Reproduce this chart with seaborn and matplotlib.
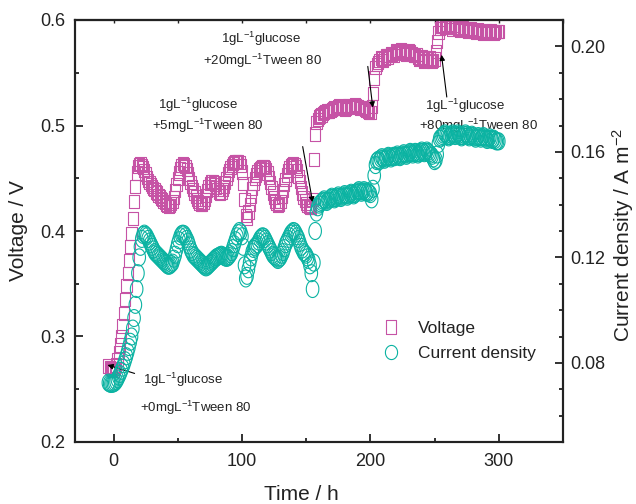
import numpy as np
import matplotlib
matplotlib.use("Agg")
import matplotlib.pyplot as plt
import seaborn as sns
from matplotlib.lines import Line2D
from matplotlib.ticker import MultipleLocator, FormatStrFormatter

# time (h), voltage (V) and current density (A m-2)
time_h = [
    -4, -3, -2, -1, 0, 1, 2, 3, 4, 5,
    6, 7, 8, 9, 10, 11, 12, 13, 14, 15,
    16, 17, 18, 19, 20, 21, 22, 23, 24, 25,
    26, 27, 28, 29, 30, 31, 32, 33, 34, 35,
    36, 37, 38, 39, 40, 41, 42, 43, 44, 45,
    46, 47, 48, 49, 50, 51, 52, 53, 54, 55,
    56, 57, 58, 59, 60, 61, 62, 63, 64, 65,
    66, 67, 68, 69, 70, 71, 72, 73, 74, 75,
    76, 77, 78, 79, 80, 81, 82, 83, 84, 85,
    86, 87, 88, 89, 90, 91, 92, 93, 94, 95,
    96, 97, 98, 99, 100, 101, 102, 103, 104, 105,
    106, 107, 108, 109, 110, 111, 112, 113, 114, 115,
    116, 117, 118, 119, 120, 121, 122, 123, 124, 125,
    126, 127, 128, 129, 130, 131, 132, 133, 134, 135,
    136, 137, 138, 139, 140, 141, 142, 143, 144, 145,
    146, 147, 148, 149, 150, 151, 152, 153, 154, 155,
    156, 157, 158, 159, 160, 161, 162, 163, 164, 165,
    166, 167, 168, 169, 170, 171, 172, 173, 174, 175,
    176, 177, 178, 179, 180, 181, 182, 183, 184, 185,
    186, 187, 188, 189, 190, 191, 192, 193, 194, 195,
    196, 197, 198, 199, 200, 201, 202, 203, 204, 205,
    206, 207, 208, 209, 210, 211, 212, 213, 214, 215,
    216, 217, 218, 219, 220, 221, 222, 223, 224, 225,
    226, 227, 228, 229, 230, 231, 232, 233, 234, 235,
    236, 237, 238, 239, 240, 241, 242, 243, 244, 245,
    246, 247, 248, 249, 250, 251, 252, 253, 254, 255,
    256, 257, 258, 259, 260, 261, 262, 263, 264, 265,
    266, 267, 268, 269, 270, 271, 272, 273, 274, 275,
    276, 277, 278, 279, 280, 281, 282, 283, 284, 285,
    286, 287, 288, 289, 290, 291, 292, 293, 294, 295,
    296, 297, 298, 299, 300,
]

voltage_v = [
    0.272, 0.271, 0.270, 0.269, 0.268, 0.270, 0.273, 0.278, 0.285, 0.292,
    0.300, 0.310, 0.322, 0.335, 0.348, 0.360, 0.372, 0.385, 0.398, 0.412,
    0.428, 0.442, 0.455, 0.461, 0.463, 0.464, 0.462, 0.460, 0.457, 0.454,
    0.451, 0.448, 0.446, 0.444, 0.442, 0.440, 0.439, 0.437, 0.436, 0.434,
    0.433, 0.431, 0.430, 0.428, 0.427, 0.425, 0.424, 0.423, 0.424, 0.426,
    0.428, 0.432, 0.438, 0.444, 0.450, 0.455, 0.459, 0.462, 0.464, 0.463,
    0.461, 0.458, 0.454, 0.450, 0.446, 0.442, 0.439, 0.436, 0.433, 0.430,
    0.428, 0.426, 0.425, 0.425, 0.427, 0.430, 0.434, 0.438, 0.442, 0.445,
    0.447, 0.447, 0.446, 0.444, 0.441, 0.439, 0.437, 0.436, 0.437, 0.439,
    0.442, 0.446, 0.450, 0.454, 0.457, 0.460, 0.462, 0.464, 0.465, 0.466,
    0.466, 0.466, 0.465, 0.462, 0.456, 0.445, 0.430, 0.415, 0.412, 0.418,
    0.425, 0.433, 0.440, 0.445, 0.450, 0.453, 0.456, 0.458, 0.459, 0.460,
    0.461, 0.461, 0.460, 0.458, 0.455, 0.451, 0.446, 0.441, 0.436, 0.432,
    0.428, 0.426, 0.424, 0.425, 0.428, 0.433, 0.438, 0.444, 0.449, 0.453,
    0.457, 0.460, 0.462, 0.463, 0.464, 0.463, 0.461, 0.457, 0.452, 0.447,
    0.441, 0.436, 0.432, 0.429, 0.426, 0.424, 0.423, 0.422, 0.422, 0.430,
    0.468, 0.492, 0.503, 0.506, 0.508, 0.509, 0.510, 0.511, 0.512, 0.513,
    0.514, 0.513, 0.513, 0.514, 0.515, 0.516, 0.517, 0.516, 0.516, 0.518,
    0.519, 0.518, 0.517, 0.516, 0.515, 0.516, 0.518, 0.519, 0.519, 0.518,
    0.517, 0.518, 0.520, 0.519, 0.518, 0.517, 0.516, 0.517, 0.517, 0.516,
    0.515, 0.514, 0.513, 0.512, 0.512, 0.518, 0.530, 0.545, 0.555, 0.558,
    0.560, 0.562, 0.564, 0.563, 0.562, 0.564, 0.566, 0.566, 0.565, 0.566,
    0.568, 0.567, 0.566, 0.568, 0.571, 0.570, 0.569, 0.570, 0.572, 0.571,
    0.570, 0.568, 0.567, 0.569, 0.571, 0.570, 0.568, 0.567, 0.566, 0.566,
    0.567, 0.565, 0.563, 0.564, 0.565, 0.563, 0.561, 0.562, 0.563, 0.564,
    0.564, 0.562, 0.561, 0.562, 0.563, 0.570, 0.580, 0.588, 0.592, 0.594,
    0.595, 0.594, 0.593, 0.594, 0.596, 0.595, 0.594, 0.593, 0.591, 0.593,
    0.595, 0.593, 0.592, 0.591, 0.590, 0.592, 0.593, 0.592, 0.591, 0.590,
    0.589, 0.590, 0.592, 0.591, 0.590, 0.589, 0.588, 0.590, 0.591, 0.590,
    0.589, 0.588, 0.587, 0.589, 0.590, 0.589, 0.588, 0.589, 0.590, 0.588,
    0.587, 0.588, 0.589, 0.589, 0.589,
]

current_a_m2 = [
    0.0725, 0.0722, 0.0720, 0.0721, 0.0722, 0.0725, 0.0730, 0.0738, 0.0748, 0.0758,
    0.0770, 0.0782, 0.0795, 0.0810, 0.0825, 0.0842, 0.0860, 0.0880, 0.0900, 0.0930,
    0.0970, 0.1020, 0.1080, 0.1140, 0.1200, 0.1240, 0.1270, 0.1285, 0.1290, 0.1285,
    0.1280, 0.1270, 0.1260, 0.1250, 0.1240, 0.1230, 0.1220, 0.1215, 0.1210, 0.1205,
    0.1200, 0.1195, 0.1190, 0.1185, 0.1180, 0.1175, 0.1170, 0.1168, 0.1170, 0.1175,
    0.1180, 0.1195, 0.1210, 0.1230, 0.1250, 0.1265, 0.1280, 0.1288, 0.1290, 0.1288,
    0.1280, 0.1270, 0.1260, 0.1245, 0.1230, 0.1220, 0.1210, 0.1205, 0.1200, 0.1195,
    0.1190, 0.1185, 0.1180, 0.1175, 0.1170, 0.1165, 0.1162, 0.1165, 0.1170, 0.1175,
    0.1180, 0.1185, 0.1190, 0.1195, 0.1200, 0.1202, 0.1205, 0.1208, 0.1210, 0.1207,
    0.1203, 0.1200, 0.1198, 0.1200, 0.1205, 0.1212, 0.1220, 0.1235, 0.1250, 0.1265,
    0.1280, 0.1292, 0.1300, 0.1295, 0.1280, 0.1240, 0.1170, 0.1120, 0.1130, 0.1155,
    0.1180, 0.1200, 0.1220, 0.1232, 0.1240, 0.1245, 0.1250, 0.1260, 0.1270, 0.1276,
    0.1280, 0.1278, 0.1270, 0.1260, 0.1250, 0.1240, 0.1230, 0.1220, 0.1210, 0.1205,
    0.1200, 0.1195, 0.1190, 0.1195, 0.1200, 0.1210, 0.1220, 0.1235, 0.1250, 0.1260,
    0.1270, 0.1280, 0.1290, 0.1295, 0.1300, 0.1298, 0.1290, 0.1280, 0.1270, 0.1255,
    0.1240, 0.1230, 0.1220, 0.1215, 0.1210, 0.1200, 0.1190, 0.1170, 0.1140, 0.1080,
    0.1180, 0.1300, 0.1370, 0.1390, 0.1400, 0.1405, 0.1410, 0.1415, 0.1420, 0.1415,
    0.1410, 0.1415, 0.1420, 0.1425, 0.1430, 0.1425, 0.1420, 0.1425, 0.1430, 0.1435,
    0.1430, 0.1425, 0.1430, 0.1435, 0.1440, 0.1435, 0.1430, 0.1435, 0.1440, 0.1445,
    0.1440, 0.1435, 0.1440, 0.1445, 0.1450, 0.1455, 0.1450, 0.1445, 0.1450, 0.1455,
    0.1450, 0.1445, 0.1450, 0.1445, 0.1440, 0.1420, 0.1460, 0.1510, 0.1550, 0.1565,
    0.1570, 0.1565, 0.1575, 0.1580, 0.1575, 0.1570, 0.1575, 0.1580, 0.1585, 0.1580,
    0.1575, 0.1580, 0.1585, 0.1580, 0.1585, 0.1590, 0.1585, 0.1580, 0.1585, 0.1590,
    0.1595, 0.1590, 0.1585, 0.1590, 0.1595, 0.1600, 0.1595, 0.1590, 0.1595, 0.1600,
    0.1595, 0.1590, 0.1595, 0.1600, 0.1605, 0.1600, 0.1595, 0.1600, 0.1605, 0.1600,
    0.1595, 0.1590, 0.1585, 0.1575, 0.1565, 0.1570, 0.1590, 0.1630, 0.1650, 0.1655,
    0.1660, 0.1665, 0.1670, 0.1665, 0.1660, 0.1655, 0.1660, 0.1665, 0.1670, 0.1665,
    0.1660, 0.1665, 0.1670, 0.1665, 0.1660, 0.1655, 0.1660, 0.1665, 0.1670, 0.1665,
    0.1660, 0.1655, 0.1660, 0.1665, 0.1660, 0.1655, 0.1650, 0.1655, 0.1660, 0.1655,
    0.1650, 0.1655, 0.1660, 0.1655, 0.1650, 0.1645, 0.1650, 0.1655, 0.1650, 0.1645,
    0.1650, 0.1645, 0.1640, 0.1640, 0.1640,
]

# annotation texts: (line 1, line 2, line-1 xy, line-2 xy, arrow tail, arrow head)
NOTES = [
    ("1gL$^{-1}$glucose", "+0mgL$^{-1}$Tween 80",
     (22.6, 0.259), (21.0, 0.232), (16.4, 0.265), (-4.7, 0.273)),
    ("1gL$^{-1}$glucose", "+5mgL$^{-1}$Tween 80",
     (34.3, 0.520), (29.6, 0.500), (147.3, 0.480), (155.1, 0.427)),
    ("1gL$^{-1}$glucose", "+20mgL$^{-1}$Tween 80",
     (83.4, 0.582), (69.4, 0.561), (198.0, 0.556), (201.9, 0.517)),
    ("1gL$^{-1}$glucose", "+80mgL$^{-1}$Tween 80",
     (242.4, 0.5185), (237.7, 0.500), (259.5, 0.527), (255.4, 0.567)),
]

VOLT_COLOR = "#C653A5"
CURR_COLOR = "#0BB3A2"
INK = "#222222"

sns.set_theme(style="ticks")
plt.rcParams["font.family"] = ["Liberation Sans", "DejaVu Sans"]
plt.rcParams["mathtext.default"] = "regular"


def box_marker(ratio):
    w = ratio / 2
    return [(-w, -0.5), (w, -0.5), (w, 0.5), (-w, 0.5), (-w, -0.5)]


def oval_marker(ratio):
    a = np.linspace(0, 2 * np.pi, 41)
    return list(zip(ratio / 2 * np.cos(a), 0.5 * np.sin(a)))


fig = plt.figure(figsize=(6.36, 5.04), dpi=100)
ax = fig.add_axes([75 / 636, 62 / 504, 488 / 636, 422 / 504])
ax2 = ax.twinx()

sns.scatterplot(x=time_h, y=voltage_v, ax=ax, marker=box_marker(0.78), s=90,
                color=VOLT_COLOR, facecolor="none", edgecolor=VOLT_COLOR,
                linewidth=0.8, legend=False)
sns.scatterplot(x=time_h, y=current_a_m2, ax=ax2, marker=oval_marker(0.74), s=150,
                color=CURR_COLOR, facecolor="none", edgecolor=CURR_COLOR,
                linewidth=0.8, legend=False)

ax.set_xlim(-30, 350)
ax.set_ylim(0.2, 0.6)
ax2.set_ylim(0.05, 0.21)

ax.xaxis.set_major_locator(MultipleLocator(100))
ax.xaxis.set_minor_locator(MultipleLocator(50))
ax.yaxis.set_major_locator(MultipleLocator(0.1))
ax.yaxis.set_minor_locator(MultipleLocator(0.05))
ax.yaxis.set_major_formatter(FormatStrFormatter("%.1f"))
ax2.yaxis.set_major_locator(MultipleLocator(0.04))
ax2.yaxis.set_minor_locator(MultipleLocator(0.01))
ax2.yaxis.set_major_formatter(FormatStrFormatter("%.2f"))

for a in (ax, ax2):
    for sp in a.spines.values():
        sp.set_linewidth(1.5)
        sp.set_color(INK)
    a.tick_params(which="both", direction="in", width=1.3, color=INK,
                  labelcolor=INK, labelsize=13)
    a.tick_params(which="major", length=6)
    a.tick_params(which="minor", length=3)
ax.tick_params(axis="x", pad=8)
ax.tick_params(axis="y", pad=7, right=False)
ax2.tick_params(axis="y", pad=5)

top = ax.secondary_xaxis("top")
top.xaxis.set_major_locator(MultipleLocator(100))
top.xaxis.set_minor_locator(MultipleLocator(50))
top.tick_params(which="both", direction="in", length=2.5, width=1.0,
                color=INK, labeltop=False)
top.spines["top"].set_linewidth(1.5)

ax.set_xlabel("Time / h", fontsize=15, color=INK)
ax.set_ylabel("Voltage / V", fontsize=15, color=INK)
ax2.set_ylabel("Current density / A m$^{-2}$", fontsize=15, color=INK)
ax.xaxis.set_label_coords(0.463, -0.102)
ax.yaxis.set_label_coords(-0.096, 0.5)
ax2.yaxis.set_label_coords(1.096, 0.49)

for line1, line2, p1, p2, tail, head in NOTES:
    ax.text(*p1, line1, fontsize=9.5, color=INK, ha="left", va="center")
    ax.text(*p2, line2, fontsize=9.5, color=INK, ha="left", va="center")
    ax.annotate("", xy=head, xytext=tail,
                arrowprops=dict(arrowstyle="-|>", color="black", lw=0.8,
                                mutation_scale=8, shrinkA=0, shrinkB=0))

handles = [
    Line2D([], [], ls="none", marker=box_marker(0.82), ms=9.4,
           mfc="none", mec=VOLT_COLOR, mew=0.8, label="Voltage"),
    Line2D([], [], ls="none", marker=oval_marker(0.86), ms=10.2,
           mfc="none", mec=CURR_COLOR, mew=0.8, label="Current density"),
]
leg = ax2.legend(handles=handles, frameon=False, loc="upper left",
                 bbox_to_anchor=(0.589, 0.325), fontsize=12.5,
                 handlelength=1.5, handletextpad=0.8, labelspacing=0.6,
                 borderpad=0.4)
for t in leg.get_texts():
    t.set_color(INK)

fig.savefig("out.png", dpi=100)
